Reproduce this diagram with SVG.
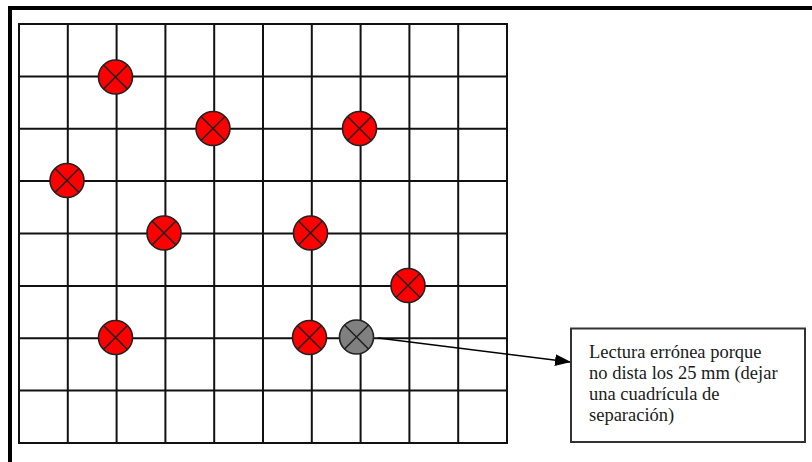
<svg xmlns="http://www.w3.org/2000/svg" width="812" height="462" viewBox="0 0 812 462">
<style>
.frame{fill:none;stroke:#000;stroke-width:4}
.grid line{stroke:#111;stroke-width:2}
.red{fill:#ff0000;stroke:#222;stroke-width:1.6}
.gray{fill:#808080;stroke:#222;stroke-width:1.6}
.conn{stroke:#000;stroke-width:1.5;fill:none}
.box{fill:#fff;stroke:#333;stroke-width:2}
.lbl{font-family:"Liberation Serif","Times New Roman",serif;font-size:18.5px;fill:#1a1a1a}
</style>
<defs>
<marker id="ah" markerWidth="16" markerHeight="12" refX="15" refY="6" orient="auto" markerUnits="userSpaceOnUse">
<path d="M0,0 L16,6 L0,12 Z" fill="#000"/>
</marker>
<g id="xmark">
<circle cx="0" cy="0" r="17"/>
<path d="M-12,-12 L12,12 M12,-12 L-12,12" fill="none"/>
</g>
</defs>
<rect width="812" height="462" fill="#fff"/>
<rect class="frame" x="10" y="8" width="810" height="470"/>
<g id="grid" class="grid">
<line x1="19" y1="24" x2="19" y2="443"/>
<line x1="67.8" y1="24" x2="67.8" y2="443"/>
<line x1="116.6" y1="24" x2="116.6" y2="443"/>
<line x1="165.4" y1="24" x2="165.4" y2="443"/>
<line x1="214.2" y1="24" x2="214.2" y2="443"/>
<line x1="263" y1="24" x2="263" y2="443"/>
<line x1="311.8" y1="24" x2="311.8" y2="443"/>
<line x1="360.6" y1="24" x2="360.6" y2="443"/>
<line x1="409.4" y1="24" x2="409.4" y2="443"/>
<line x1="458.2" y1="24" x2="458.2" y2="443"/>
<line x1="507" y1="24" x2="507" y2="443"/>
<line x1="18" y1="24" x2="508" y2="24"/>
<line x1="18" y1="76.4" x2="508" y2="76.4"/>
<line x1="18" y1="128.75" x2="508" y2="128.75"/>
<line x1="18" y1="181.1" x2="508" y2="181.1"/>
<line x1="18" y1="233.5" x2="508" y2="233.5"/>
<line x1="18" y1="285.9" x2="508" y2="285.9"/>
<line x1="18" y1="338.25" x2="508" y2="338.25"/>
<line x1="18" y1="390.6" x2="508" y2="390.6"/>
<line x1="18" y1="443" x2="508" y2="443"/>
</g>
<g id="connectors">
<line class="conn" x1="378" y1="338" x2="570" y2="362" marker-end="url(#ah)"/>
</g>
<g id="p1" class="red" transform="translate(115.5,77)"><use href="#xmark"/></g>
<g id="p2" class="red" transform="translate(213,128.5)"><use href="#xmark"/></g>
<g id="p3" class="red" transform="translate(359.5,128.5)"><use href="#xmark"/></g>
<g id="p4" class="red" transform="translate(67,180.5)"><use href="#xmark"/></g>
<g id="p5" class="red" transform="translate(164,233)"><use href="#xmark"/></g>
<g id="p6" class="red" transform="translate(310.5,233)"><use href="#xmark"/></g>
<g id="p7" class="red" transform="translate(408,285.5)"><use href="#xmark"/></g>
<g id="p8" class="red" transform="translate(115.5,337.5)"><use href="#xmark"/></g>
<g id="p9" class="red" transform="translate(309.5,337.5)"><use href="#xmark"/></g>
<g id="p10" class="gray" transform="translate(356.5,337)"><use href="#xmark"/></g>
<g id="note">
<rect class="box" x="571" y="328.5" width="234" height="113.5"/>
<text class="lbl" x="589" y="357.5">Lectura errónea porque</text>
<text class="lbl" x="589" y="378.5">no dista los 25 mm (dejar</text>
<text class="lbl" x="589" y="399.5">una cuadrícula de</text>
<text class="lbl" x="589" y="420.5">separación)</text>
</g>
</svg>
